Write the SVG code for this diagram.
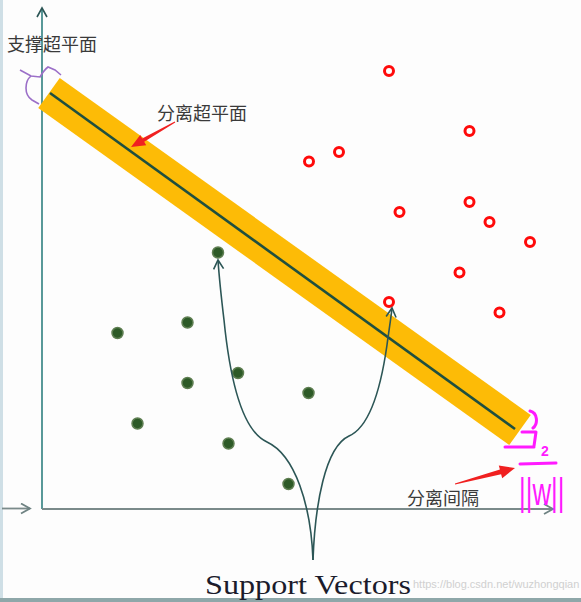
<svg xmlns="http://www.w3.org/2000/svg" width="581" height="602" viewBox="0 0 581 602">
<defs>
<style>
.cn{font-family:"Noto Sans CJK SC","Noto Sans",sans-serif;font-size:18px;fill:#3a3a3a}
.red{fill:#ffffff;stroke:#ff0a0a;stroke-width:3}
.grn{fill:#2d5a27;stroke:#5f7f52;stroke-width:1.5}
.sv{fill:none;stroke:#2c5656;stroke-width:1.6}
.mg{fill:none;stroke:#ff1aff;stroke-width:3;stroke-linecap:round;stroke-linejoin:round}
</style>
<marker id="chev" viewBox="0 0 12 12" refX="10" refY="6" markerWidth="12" markerHeight="12" markerUnits="userSpaceOnUse" orient="auto">
<path d="M1,1 L10,6 L1,11" fill="none" stroke="#2c5656" stroke-width="1.6"/>
</marker>
<marker id="chevg" viewBox="0 0 12 12" refX="10" refY="6" markerWidth="12" markerHeight="12" markerUnits="userSpaceOnUse" orient="auto">
<path d="M1,1 L10,6 L1,11" fill="none" stroke="#6f8383" stroke-width="1.8"/>
</marker>
</defs>
<rect x="0" y="0" width="581" height="602" fill="#fdfdfd"/>
<rect x="0" y="0" width="3" height="602" fill="#cfdfe6"/>
<rect x="0" y="598" width="581" height="4" fill="#8ea7a9"/>

<g id="axes">
<line x1="42" y1="509" x2="42" y2="8" stroke="#2f7f7f" stroke-width="1.6" marker-end="url(#chev)"/>
<line x1="42" y1="509" x2="553" y2="509" stroke="#7a8a8a" stroke-width="1.8" marker-end="url(#chevg)"/>
<line x1="2" y1="508.5" x2="30" y2="508.5" stroke="#7a8a8a" stroke-width="1.8" marker-end="url(#chevg)"/>
</g>

<g id="band">
<line x1="49" y1="93" x2="520" y2="430" stroke="#fdbb06" stroke-width="37"/>
<line x1="50" y1="93" x2="515" y2="429" stroke="#1f4f3f" stroke-width="2.6"/>
</g>

<g id="support-bracket">
<path d="M20,70 L31,76 L40,77 Q44,70 48,67 L55,70 L61,75" fill="none" stroke="#9b6fc8" stroke-width="1.6"/>
<path d="M31,76 Q26,80 26,88 Q26,96 32,100 L39,104" fill="none" stroke="#9b6fc8" stroke-width="1.6"/>
</g>

<g id="red-points">
<circle class="red" cx="389" cy="71" r="4.5"/>
<circle class="red" cx="469.5" cy="131" r="4.5"/>
<circle class="red" cx="339" cy="152" r="4.5"/>
<circle class="red" cx="309" cy="161.5" r="4.5"/>
<circle class="red" cx="399.5" cy="212" r="4.5"/>
<circle class="red" cx="469.5" cy="202" r="4.5"/>
<circle class="red" cx="489.5" cy="222" r="4.5"/>
<circle class="red" cx="530" cy="242" r="4.5"/>
<circle class="red" cx="459.5" cy="272.5" r="4.5"/>
<circle class="red" cx="389" cy="302" r="4.5"/>
<circle class="red" cx="499.5" cy="312.5" r="4.5"/>
</g>

<g id="green-points">
<circle class="grn" cx="218" cy="252.5" r="5.5"/>
<circle class="grn" cx="117.5" cy="333" r="5.5"/>
<circle class="grn" cx="187.5" cy="322.5" r="5.5"/>
<circle class="grn" cx="187.5" cy="383" r="5.5"/>
<circle class="grn" cx="238" cy="373" r="5.5"/>
<circle class="grn" cx="308.5" cy="393" r="5.5"/>
<circle class="grn" cx="137.5" cy="423.5" r="5.5"/>
<circle class="grn" cx="228.5" cy="443.5" r="5.5"/>
<circle class="grn" cx="288.5" cy="484" r="5.5"/>
</g>

<g id="connectors">
<path class="sv" d="M313,560 C311,505 295,455 267,442 C240,430 229,370 224,320 C221,295 219,275 218,260" marker-end="url(#chev)"/>
<path class="sv" d="M313,560 C315,505 325,447 349,436 C372,426 382,380 387,345 C389,330 391,318 392,308" marker-end="url(#chev)"/>
<polygon points="174.75,121.6 142.2,138.4 140.2,134.9 131,147 146.2,145.3 144.2,141.8 175.25,122.4" fill="#f02020"/>
<polygon points="454.9,483.5 499.9,469.5 498.8,465.6 515,468 502.2,478.2 501.1,474.3 455.1,484.5" fill="#f02020"/>
</g>

<g id="margin-note">
<path class="mg" d="M530,411 C538,413 538,424 533,428 M522,432 L536,432 L534,446 M505,447 L534,447"/>
<text x="541" y="456" font-family="Liberation Sans, sans-serif" font-size="14" font-weight="bold" fill="#ff1aff">2</text>
<line class="mg" x1="520" y1="464" x2="556" y2="463"/>
<text transform="translate(519,505) scale(0.68,1)" x="0" y="0" font-family="Liberation Sans, sans-serif" font-size="38" fill="#ff1aff">||w||</text>
</g>

<g id="labels">
<text class="cn" x="7" y="51">支撑超平面</text>
<text class="cn" x="157" y="120">分离超平面</text>
<text class="cn" x="407" y="505">分离间隔</text>
<text x="413" y="588" font-family="Liberation Sans, sans-serif" font-size="11" fill="#d0d0d0">https://blog.csdn.net/wuzhongqian</text>
<text x="205" y="594" font-family="Liberation Serif, serif" font-size="28" fill="#1b1b2b" textLength="206" lengthAdjust="spacingAndGlyphs">Support Vectors</text>
</g>
</svg>
